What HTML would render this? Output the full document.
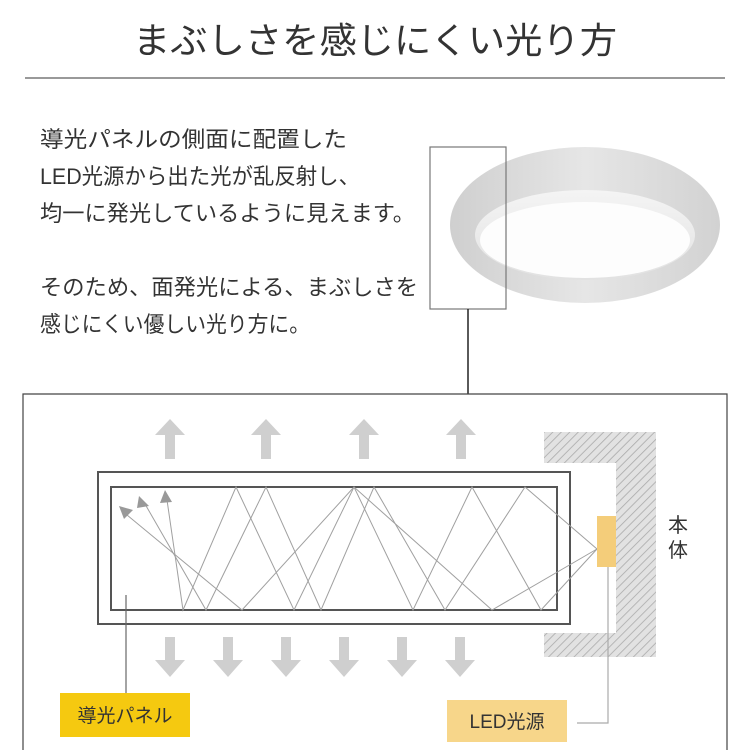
<!DOCTYPE html>
<html><head><meta charset="utf-8"><style>
html,body{margin:0;padding:0;background:#fff;}
svg{display:block;}
text{font-family:"Liberation Sans","Noto Sans CJK JP",sans-serif;}
</style></head><body>
<svg width="750" height="750" viewBox="0 0 750 750" xmlns="http://www.w3.org/2000/svg">
<defs>
<pattern id="hatch" width="6" height="6" patternUnits="userSpaceOnUse" patternTransform="rotate(45)">
<rect width="6" height="6" fill="#e2e2e2"/>
<line x1="0" y1="0" x2="0" y2="6" stroke="#aaa" stroke-width="1.6"/>
</pattern>
<linearGradient id="band" x1="0" x2="1" y1="0" y2="0">
<stop offset="0" stop-color="#cfcfcf"/><stop offset="0.5" stop-color="#e6e6e6"/><stop offset="1" stop-color="#d2d2d2"/>
</linearGradient>
<linearGradient id="inner" x1="0" x2="0" y1="0" y2="1">
<stop offset="0" stop-color="#f4f4f4"/><stop offset="1" stop-color="#e2e2e2"/>
</linearGradient>
</defs>
<text x="375" y="53" font-size="36" fill="#333" text-anchor="middle" textLength="484" lengthAdjust="spacingAndGlyphs">まぶしさを感じにくい光り方</text>
<line x1="25" y1="78" x2="725" y2="78" stroke="#333" stroke-width="1"/>
<g font-size="22" fill="#333">
<text x="40" y="147" textLength="307" lengthAdjust="spacingAndGlyphs">導光パネルの側面に配置した</text>
<text x="40" y="184" textLength="320" lengthAdjust="spacingAndGlyphs">LED光源から出た光が乱反射し、</text>
<text x="40" y="221" textLength="375" lengthAdjust="spacingAndGlyphs">均一に発光しているように見えます。</text>
<text x="40" y="295" textLength="378" lengthAdjust="spacingAndGlyphs">そのため、面発光による、まぶしさを</text>
<text x="40" y="332" textLength="270" lengthAdjust="spacingAndGlyphs">感じにくい優しい光り方に。</text>
</g>
<!-- lamp -->
<ellipse cx="585" cy="225" rx="135" ry="78" fill="url(#band)"/>
<ellipse cx="585" cy="235" rx="110" ry="45" fill="url(#inner)"/>
<ellipse cx="585" cy="240" rx="105" ry="38" fill="#fdfdfd"/>
<rect x="430" y="147" width="76" height="162" fill="none" stroke="#777" stroke-width="1.2"/>
<line x1="468" y1="309" x2="468" y2="394" stroke="#222" stroke-width="1.5"/>
<!-- big box -->
<path d="M23 750 V394 H727 V750" fill="none" stroke="#444" stroke-width="1.2"/>
<!-- hatched body -->
<path d="M544 432 H656 V657 H544 V633 H616 V463 H544Z" fill="url(#hatch)"/>
<text x="668" y="532" font-size="20" fill="#333">本</text>
<text x="668" y="557" font-size="20" fill="#333">体</text>
<!-- panel -->
<rect x="98" y="472" width="472" height="152" fill="#fff" stroke="#555" stroke-width="2"/>
<rect x="111" y="487" width="446" height="123" fill="#fff" stroke="#555" stroke-width="2"/>
<g fill="none" stroke="#a0a0a0" stroke-width="1">
<polyline points="597,549 541,610 472,487 413,610 354,487 242,610 127,515"/>
<polyline points="597,549 525,487 445,610 374,487 321,610 266,487 206,610 145,504"/>
<polyline points="597,549 492,610 354,487 294,610 236,487 183,610 167,500"/>
</g>
<g fill="#999">
<polygon points="119,506 133,510 124,519"/>
<polygon points="139,496 149,506 137,508"/>
<polygon points="165,490 172,502 160,503"/>
</g>
<!-- LED -->
<rect x="597" y="516" width="19" height="51" fill="#f4cd7a"/>
<polyline points="608,567 608,723 577,723" fill="none" stroke="#aaa" stroke-width="1.2"/>
<!-- arrows -->
<g fill="#cfcfcf">
<g id="up"><polygon points="170,419 185,435 175,435 175,459 165,459 165,435 155,435"/></g>
<use href="#up" x="96"/><use href="#up" x="194"/><use href="#up" x="291"/>
<g id="dn"><polygon points="165,637 175,637 175,660 185,660 170,677 155,660 165,660"/></g>
<use href="#dn" x="58"/><use href="#dn" x="116"/><use href="#dn" x="174"/><use href="#dn" x="232"/><use href="#dn" x="290"/>
</g>
<!-- labels -->
<line x1="126" y1="595" x2="126" y2="693" stroke="#666" stroke-width="1.2"/>
<rect x="60" y="693" width="130" height="44" fill="#f5c910"/>
<text x="125" y="722" font-size="19" fill="#333" text-anchor="middle">導光パネル</text>
<rect x="447" y="700" width="120" height="42" fill="#f7d68a"/>
<text x="507" y="728" font-size="19" fill="#333" text-anchor="middle">LED光源</text>
</svg>
</body></html>
